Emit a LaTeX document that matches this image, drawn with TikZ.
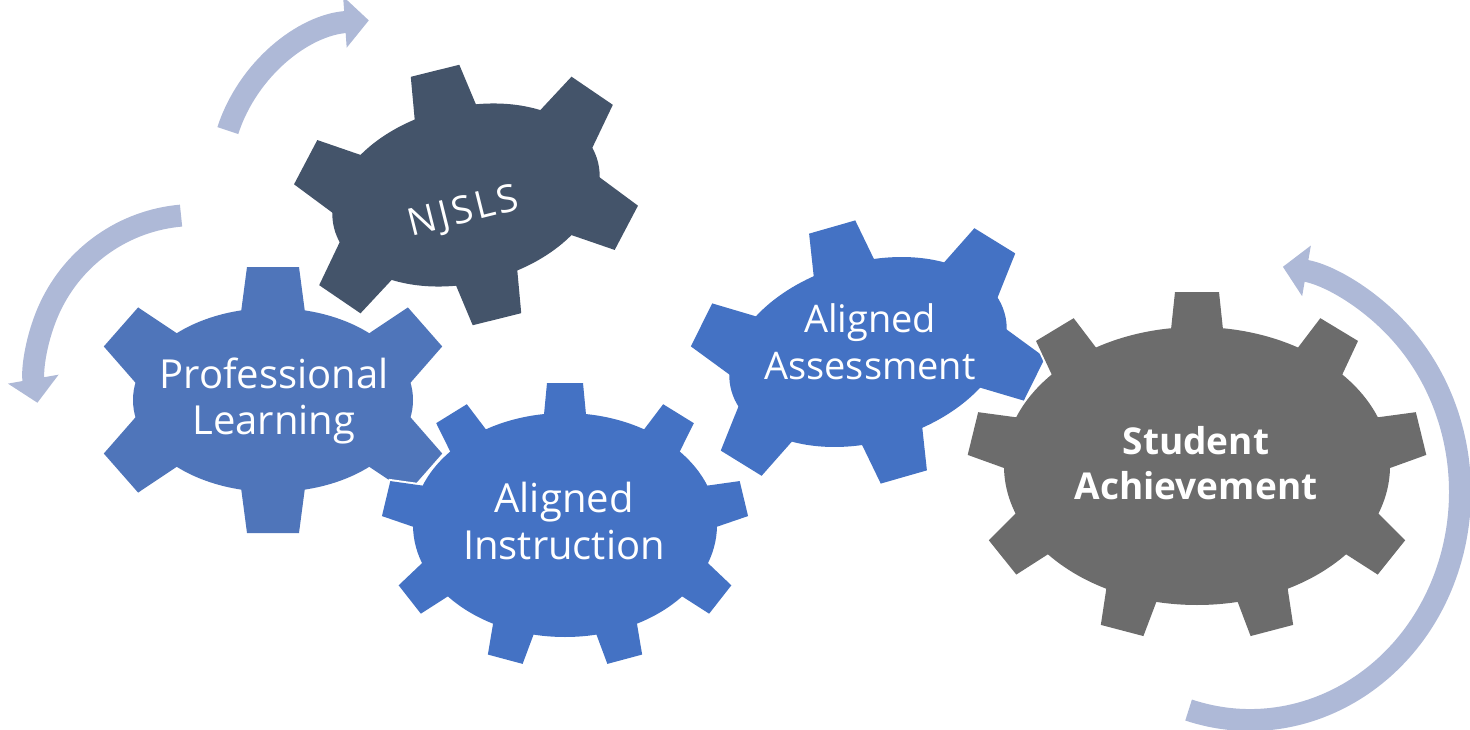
\documentclass[tikz,border=0pt]{standalone}
\usepackage{fontspec}
\setmainfont{Open Sans}
\definecolor{GearSlate}{RGB}{68, 84, 106}
\definecolor{GearBlue}{RGB}{68, 114, 196}
\definecolor{GearSoftBlue}{RGB}{79, 117, 186}
\definecolor{GearGrey}{RGB}{108, 108, 108}
\definecolor{CycleBlue}{RGB}{174, 185, 215}
\usetikzlibrary{arrows.meta}

% #1 centre, #2 tilt, #3 x radius, #4 y radius, #5 tooth angles,
% #6 half width at root, #7 half width at tip, #8 tooth height, #9 colour
\newcommand{\gear}[9]{%
  \begin{scope}[shift={#1}, rotate=#2]
    % white rim first
    \foreach \t in {#5} {
      \pgfmathsetmacro\px{#3*cos(\t)}
      \pgfmathsetmacro\py{#4*sin(\t)}
      \pgfmathsetmacro\nrm{atan2(#3*sin(\t), #4*cos(\t))}
      \draw[gearrim, shift={(\px,\py)}, rotate=\nrm] (-12,-#6) -- (#8,-#7) -- (#8,#7) -- (-12,#6) -- cycle;
    }
    \draw[gearrim] (0,0) ellipse [x radius=#3, y radius=#4];
    % then the body
    \foreach \t in {#5} {
      \pgfmathsetmacro\px{#3*cos(\t)}
      \pgfmathsetmacro\py{#4*sin(\t)}
      \pgfmathsetmacro\nrm{atan2(#3*sin(\t), #4*cos(\t))}
      \fill[#9, shift={(\px,\py)}, rotate=\nrm] (-12,-#6) -- (#8,-#7) -- (#8,#7) -- (-12,#6) -- cycle;
    }
    \fill[#9] (0,0) ellipse [x radius=#3, y radius=#4];
  \end{scope}}

\begin{document}
\begin{tikzpicture}[x=1pt, y=1pt,
    gearrim/.style={draw=white, line width=4pt},
    gearlabel/.style={text=white, align=center, inner sep=0pt, font=\fontsize{40}{47}\selectfont},
    cyclearrow/.style={draw=CycleBlue, line width=22pt, -{Triangle[width=50pt, length=24pt]}}]
  \useasboundingbox (0,0) rectangle (1470,-730);

  % Cycle arrows
  \coordinate (hubA) at (380,-180);
  \coordinate (hubB) at (195,-375);
  \coordinate (hubC) at (1250,-492);
  \draw[cyclearrow] ([shift={(162:160)}]hubA) arc[start angle=162, end angle=94, radius=160];
  \draw[cyclearrow] ([shift={(95:160)}]hubB) arc[start angle=95, end angle=190, radius=160];
  \draw[cyclearrow] ([shift={(-107:210 and 228)}]hubC) arc[start angle=-107, end angle=81, x radius=210, y radius=228];

  % Gears
  \gear{(466,-195)}{14}{136}{88}{90,30,-30,-90,150,210}{33}{25}{40}{GearSlate}
  \gear{(273,-400)}{0}{140}{92}{90,30,-30,-90,150,210}{33}{26}{41}{GearSoftBlue}
  \gear{(565,-525)}{0}{152}{112}{90,50,...,-230}{22}{18}{30}{GearBlue}
  \gear{(868,-352)}{16}{142}{90}{90,30,-30,-90,150,210}{33}{24}{40}{GearBlue}
  \gear{(1197,-466)}{0}{193}{139}{90,50,...,-230}{27}{22}{35}{GearGrey}

  % Labels
  \node[gearlabel] (pl) at (274,-401) {Professional\\Learning};
  \node[gearlabel, rotate=14, font=\fontsize{38}{45}\selectfont\addfontfeatures{LetterSpace=8}] (njsls) at (464,-213) {NJSLS};
  \node[gearlabel] (ai) at (564,-521) {Aligned\\Instruction};
  \node[gearlabel, font=\fontsize{38}{47}\selectfont] (aa) at (870,-342) {Aligned\\Assessment};
  \node[gearlabel, font=\bfseries\fontsize{37}{45}\selectfont] (sa) at (1196,-463) {Student\\Achievement};
\end{tikzpicture}
\end{document}
